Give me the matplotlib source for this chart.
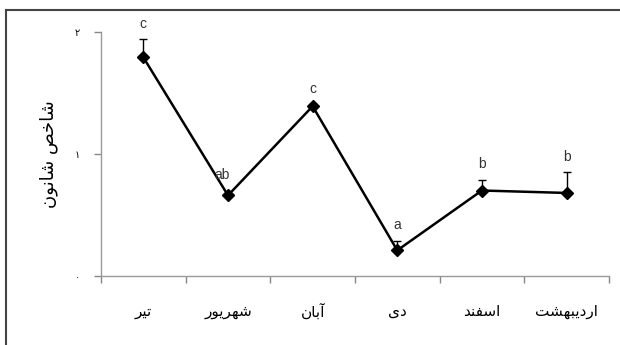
import matplotlib
matplotlib.use("Agg")
import matplotlib.pyplot as plt
from matplotlib.lines import Line2D

# ---- data ----
months = ["تیر", "شهریور", "آبان", "دی", "اسفند", "اردیبهشت"]
shannon = [1.79, 0.66, 1.39, 0.21, 0.70, 0.68]
err_up = [0.15, 0.0, 0.02, 0.08, 0.09, 0.17]
letters = ["c", "ab", "c", "a", "b", "b"]
y_ticks = [0, 1, 2]
y_tick_labels = ["۰", "۱", "۲"]
y_title = "شاخص شانون"

# ---- minimal Persian shaping (matplotlib has no complex text layout) ----
FORMS = {
    "ا": (0xFE8D, 0xFE8E, None, None),
    "آ": (0xFE81, 0xFE82, None, None),
    "ب": (0xFE8F, 0xFE90, 0xFE91, 0xFE92),
    "ت": (0xFE95, 0xFE96, 0xFE97, 0xFE98),
    "خ": (0xFEA5, 0xFEA6, 0xFEA7, 0xFEA8),
    "د": (0xFEA9, 0xFEAA, None, None),
    "ر": (0xFEAD, 0xFEAE, None, None),
    "س": (0xFEB1, 0xFEB2, 0xFEB3, 0xFEB4),
    "ش": (0xFEB5, 0xFEB6, 0xFEB7, 0xFEB8),
    "ص": (0xFEB9, 0xFEBA, 0xFEBB, 0xFEBC),
    "ف": (0xFED1, 0xFED2, 0xFED3, 0xFED4),
    "ن": (0xFEE5, 0xFEE6, 0xFEE7, 0xFEE8),
    "ه": (0xFEE9, 0xFEEA, 0xFEEB, 0xFEEC),
    "و": (0xFEED, 0xFEEE, None, None),
    "ی": (0xFBFC, 0xFBFD, 0xFBFE, 0xFBFF),
}


def shape(text):
    out = []
    n = len(text)
    for i, ch in enumerate(text):
        if ch not in FORMS:
            out.append(ch)
            continue
        iso, fin, ini, med = FORMS[ch]
        prev = text[i - 1] if i > 0 else None
        nxt = text[i + 1] if i < n - 1 else None
        join_prev = prev in FORMS and FORMS[prev][2] is not None
        join_next = nxt in FORMS and ini is not None
        if join_prev and join_next:
            cp = med
        elif join_prev:
            cp = fin
        elif join_next:
            cp = ini
        else:
            cp = iso
        out.append(chr(cp))
    return "".join(reversed(out))


plt.rcParams["font.family"] = ["DejaVu Sans"]

fig = plt.figure(figsize=(6.2, 3.45), dpi=100)
ax = fig.add_axes([0.163, 0.2, 0.819, 0.708])

x = list(range(len(months)))
ax.errorbar(x, shannon, yerr=[[0] * len(err_up), err_up], fmt="none",
            ecolor="black", elinewidth=1.0, capsize=3, capthick=1.0, zorder=2)
ax.plot(x, shannon, color="black", lw=1.8, marker="D", markersize=6.5,
        markerfacecolor="black", markeredgecolor="black", zorder=3)

for xi, v, e, lab in zip(x, shannon, err_up, letters):
    off = 11 if e > 0 else 15
    ax.annotate(lab, (xi, v + e), xytext=(0 if e > 0 else -4, off),
                textcoords="offset points", ha="center", va="center",
                fontsize=10, color="#333333", family="Liberation Sans",
                annotation_clip=False)

ax.set_xlim(-0.5, len(months) - 0.5)
ax.set_ylim(0, 2)
ax.set_yticks(y_ticks)
ax.set_yticklabels(y_tick_labels, fontsize=7)
ax.set_xticks(x)
ax.set_xticklabels([shape(m) for m in months], fontsize=11)
ax.set_xticks([i - 0.5 for i in range(len(months) + 1)], minor=True)
ax.tick_params(axis="x", which="major", length=0, pad=20)
ax.tick_params(axis="x", which="minor", length=5, color="#888888", width=1)
ax.tick_params(axis="y", length=5, color="#888888", width=1, pad=10)

for s in ["top", "right"]:
    ax.spines[s].set_visible(False)
for s in ["left", "bottom"]:
    ax.spines[s].set_color("#999999")
    ax.spines[s].set_linewidth(1.0)

ax.set_ylabel(shape(y_title), fontsize=13, labelpad=12)

# outer frame (only top and left edges are visible in the crop)
fig.add_artist(Line2D([6 / 620, 1.0], [1 - 10 / 345, 1 - 10 / 345],
                      transform=fig.transFigure, color="#444444", lw=1.5))
fig.add_artist(Line2D([6 / 620, 6 / 620], [0, 1 - 10 / 345],
                      transform=fig.transFigure, color="#444444", lw=1.5))

fig.savefig("out.png", dpi=100)
